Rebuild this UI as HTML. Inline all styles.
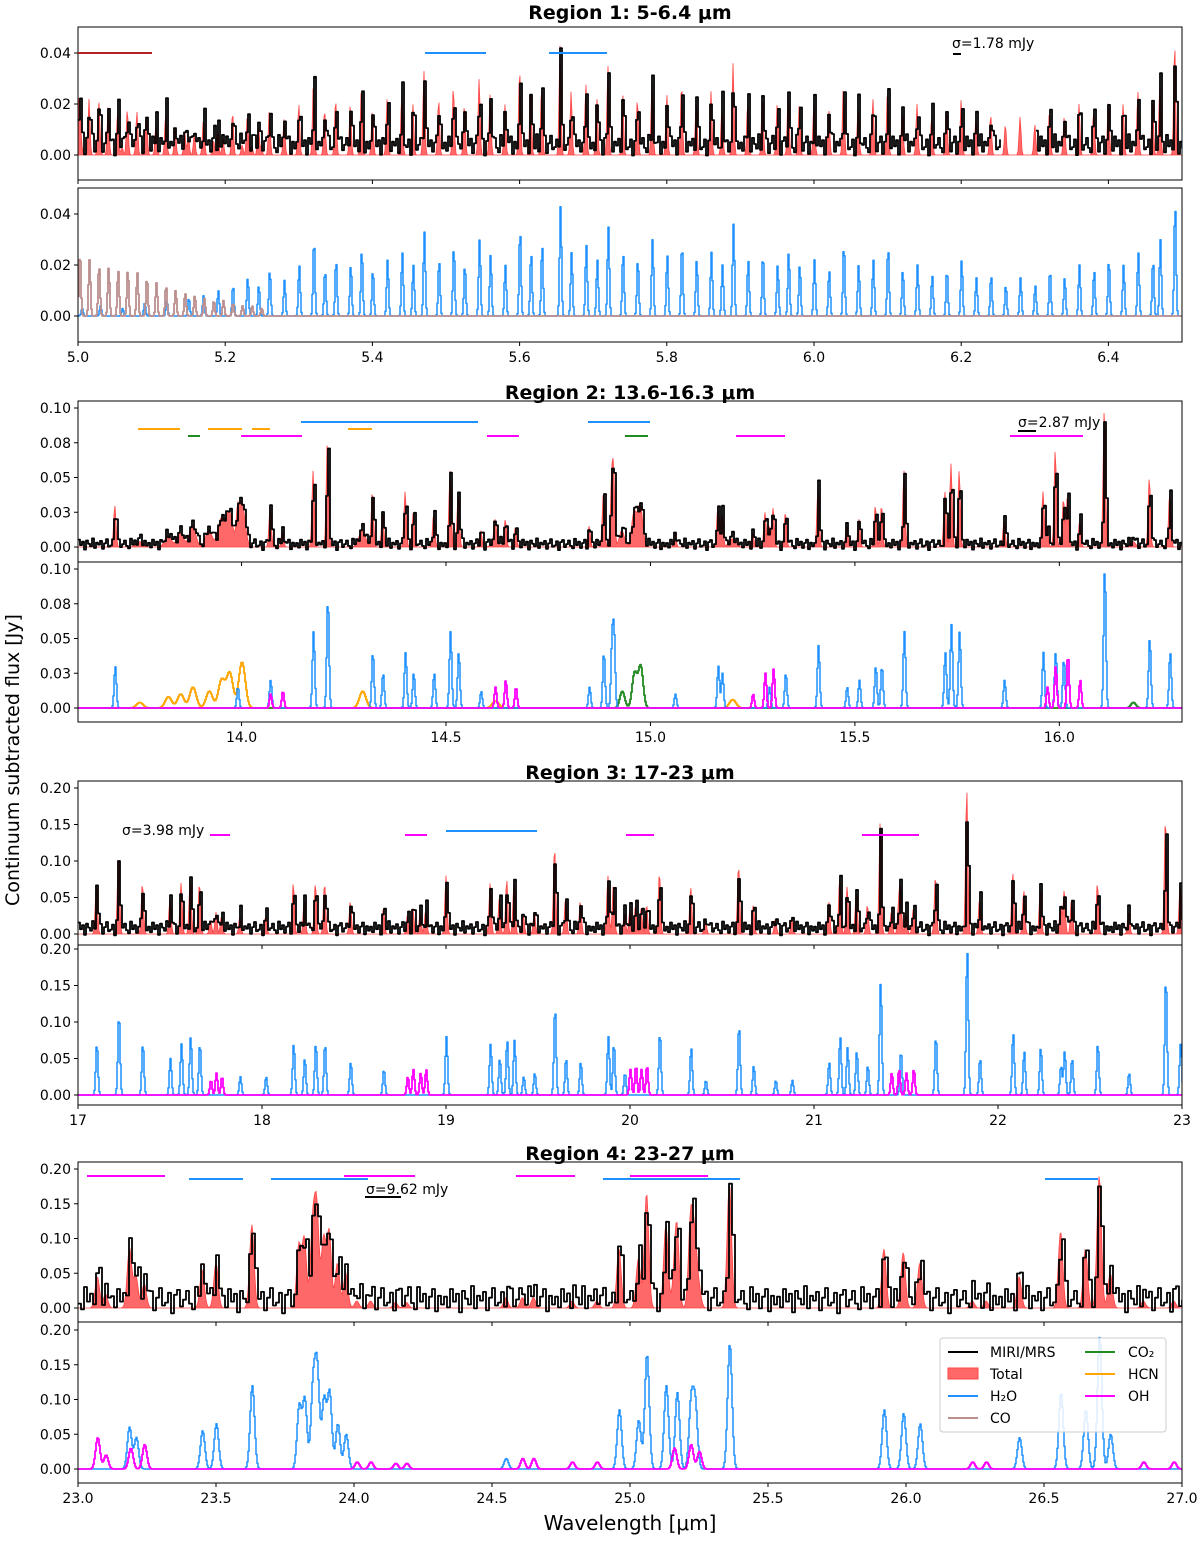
<!DOCTYPE html>
<html><head><meta charset="utf-8"><style>
html,body{margin:0;padding:0;background:#fff;}
svg text{font-family:"DejaVu Sans","Liberation Sans",sans-serif;}
</style></head><body>
<svg id="fig" width="1200" height="1537" viewBox="0 0 1200 1537" xmlns="http://www.w3.org/2000/svg">
<text x="19" y="760" font-size="19" text-anchor="middle" transform="rotate(-90 19 760)">Continuum subtracted flux [Jy]</text>
<text x="630" y="1530" font-size="20" text-anchor="middle">Wavelength [μm]</text>
<text x="630" y="19" font-size="19" font-weight="bold" text-anchor="middle">Region 1: 5-6.4 μm</text>
<text x="630" y="399" font-size="19" font-weight="bold" text-anchor="middle">Region 2: 13.6-16.3 μm</text>
<text x="630" y="779" font-size="19" font-weight="bold" text-anchor="middle">Region 3: 17-23 μm</text>
<text x="630" y="1160" font-size="19" font-weight="bold" text-anchor="middle">Region 4: 23-27 μm</text>
</svg>
<script>
// ---------- data ----------
const r1H2OCenters=[5.005,5.03,5.06,5.09,5.12,5.15,5.17,5.19,5.21,5.23,5.245,5.26,5.28,5.30,5.32,5.335,5.35,5.37,5.385,5.40,5.42,5.44,5.455,5.47,5.49,5.51,5.525,5.545,5.56,5.58,5.60,5.615,5.63,5.655,5.67,5.69,5.705,5.72,5.74,5.76,5.78,5.80,5.82,5.84,5.86,5.875,5.89,5.91,5.93,5.95,5.965,5.98,6.00,6.02,6.04,6.06,6.08,6.10,6.12,6.14,6.16,6.18,6.20,6.22,6.24,6.26,6.28,6.30,6.32,6.34,6.36,6.38,6.40,6.42,6.44,6.46,6.47,6.49];
const r1H2OHeights=[.003,.004,.003,.005,.006,.007,.008,.010,.012,.015,.012,.018,.014,.020,.030,.018,.022,.020,.026,.018,.022,.025,.020,.033,.022,.027,.020,.030,.024,.020,.034,.025,.028,.043,.025,.028,.022,.035,.025,.022,.030,.024,.028,.022,.025,.020,.036,.022,.024,.020,.025,.020,.022,.018,.028,.020,.022,.027,.018,.020,.016,.018,.022,.015,.016,.012,.015,.012,.018,.015,.020,.018,.022,.020,.025,.022,.030,.044];
const r1COCenters=[5.002,5.015,5.028,5.041,5.054,5.067,5.080,5.093,5.106,5.119,5.132,5.145,5.158,5.171,5.184,5.197,5.210,5.223,5.236,5.249];
const r1COHeights=[.025,.022,.020,.019,.018,.018,.017,.015,.013,.012,.010,.009,.008,.007,.006,.006,.005,.004,.004,.003];
const r2H2OCenters=[13.69,13.99,14.07,14.175,14.21,14.32,14.345,14.40,14.42,14.47,14.51,14.53,14.585,14.85,14.885,14.905,14.91,15.06,15.165,15.175,15.29,15.33,15.41,15.48,15.51,15.55,15.565,15.62,15.72,15.735,15.755,15.865,15.96,15.99,16.01,16.11,16.22,16.27];
const r2H2OHeights=[.030,.015,.020,.055,.078,.040,.025,.040,.025,.025,.055,.040,.012,.015,.040,.045,.050,.010,.030,.025,.015,.025,.045,.015,.020,.030,.030,.055,.040,.060,.055,.020,.040,.040,.035,.100,.050,.040];
const r2HCNCenters=[13.75,13.82,13.85,13.88,13.92,13.95,13.97,14.0,14.295,14.62,15.2];
const r2HCNHeights=[.004,.008,.010,.015,.012,.020,.025,.033,.012,.005,.006];
const r2CO2Centers=[14.93,14.96,14.975,16.18];
const r2CO2Heights=[.012,.025,.030,.004];
const r2OHCenters=[14.07,14.10,14.62,14.645,14.67,15.25,15.28,15.30,15.97,15.99,16.02,16.05];
const r2OHHeights=[.010,.012,.015,.020,.015,.010,.025,.028,.015,.030,.038,.020];
const r3H2OCenters=[17.10,17.22,17.35,17.50,17.56,17.61,17.66,17.88,18.02,18.17,18.23,18.29,18.34,18.48,18.66,19.0,19.24,19.29,19.33,19.37,19.42,19.48,19.59,19.65,19.73,19.88,19.91,19.97,20.16,20.33,20.41,20.59,20.67,20.79,20.88,21.08,21.14,21.18,21.23,21.29,21.36,21.47,21.66,21.83,21.90,22.08,22.14,22.23,22.34,22.36,22.40,22.54,22.71,22.91,22.99];
const r3H2OHeights=[.070,.110,.070,.050,.070,.080,.070,.025,.025,.070,.050,.070,.070,.045,.035,.080,.070,.050,.075,.075,.025,.030,.120,.050,.045,.080,.070,.030,.085,.065,.020,.095,.040,.020,.020,.045,.080,.065,.060,.040,.155,.060,.080,.200,.050,.085,.060,.065,.040,.060,.050,.070,.030,.160,.070];
const r3OHCenters=[17.72,17.75,17.78,18.79,18.82,18.86,18.89,20.0,20.03,20.06,20.09,21.42,21.46,21.50,21.54];
const r3OHHeights=[.020,.030,.025,.025,.035,.030,.035,.035,.040,.035,.040,.030,.035,.030,.035];
const r4H2OCenters=[23.185,23.21,23.45,23.50,23.63,23.80,23.82,23.85,23.865,23.89,23.91,23.94,23.97,24.55,24.96,25.03,25.06,25.13,25.17,25.22,25.235,25.36,25.92,25.99,26.05,26.41,26.56,26.65,26.70,26.74];
const r4H2OHeights=[.060,.045,.055,.065,.120,.090,.100,.115,.140,.100,.110,.065,.050,.015,.085,.070,.165,.120,.110,.095,.090,.180,.085,.080,.065,.045,.110,.085,.190,.050];
const r4OHCenters=[23.07,23.10,23.19,23.24,24.01,24.06,24.15,24.19,24.61,24.65,24.79,24.88,25.16,25.22,25.25,26.24,26.29,26.86,26.97];
const r4OHHeights=[.045,.020,.030,.035,.010,.010,.008,.008,.015,.015,.010,.010,.030,.035,.025,.010,.010,.010,.010];
const residuals=[0.3,-0.8,1.1,-0.2,0.6,-1.3,0.9,0.1,-0.5,1.4,-0.9,0.4,-0.1,0.8,-1.1,0.2,1.2,-0.6,-0.3,0.7,-1.4,0.5,1.0,-0.7,0.0,0.9,-0.4,-1.0,1.3,-0.2,0.6,-0.9,0.3,1.1,-1.2,0.4,-0.5];
const r1YTicks=["0.00","0.02","0.04"];const r1YVals=[0,0.02,0.04];
const r2YTicks=["0.00","0.03","0.05","0.08","0.10"];const r2YVals=[0,0.025,0.05,0.075,0.10];
const r3YTicks=["0.00","0.05","0.10","0.15","0.20"];const r3YVals=[0,0.05,0.10,0.15,0.20];
const r1XTicks=[5.0,5.2,5.4,5.6,5.8,6.0,6.2,6.4];
const r2XTicks=[14.0,14.5,15.0,15.5,16.0];
const r3XTicks=[17,18,19,20,21,22,23];
const r4XTicks=[23.0,23.5,24.0,24.5,25.0,25.5,26.0,26.5,27.0];
const r1GapStart=6.255, r1GapEnd=6.30;

// ---------- drawing ----------
const NS="http://www.w3.org/2000/svg";
const svg=document.getElementById('fig');
const X0=78,X1=1182;
function mk(tag,attrs,parent){const e=document.createElementNS(NS,tag);for(const k in attrs)e.setAttribute(k,attrs[k]);(parent||svg).appendChild(e);return e;}
function model(lam,centers,heights,sig){let s=0;for(let i=0;i<centers.length;i++){const d=(lam-centers[i])/sig;if(Math.abs(d)<5)s+=heights[i]*Math.exp(-0.5*d*d);}return s;}
let clipId=0;
function makePanel(p){
  const g=mk('g',{});
  
  
  const cid='c'+(clipId++);
  const cp=mk('clipPath',{id:cid},g);mk('rect',{x:X0,y:p.top,width:X1-X0,height:p.bot-p.top},cp);
  const plot=mk('g',{'clip-path':'url(#'+cid+')'},g);
  p.xs=l=>X0+(l-p.xmin)/(p.xmax-p.xmin)*(X1-X0);
  p.ys=v=>p.y0-v*p.k;
  p.plot=plot;p.g=g;
  return p;
}
function frame(p,showX){
  const g=p.g;
  const r=mk('rect',{x:X0,y:p.top,width:X1-X0,height:p.bot-p.top,fill:'none',stroke:'#000','stroke-width':1},g);
  
  
  p.yvals.forEach((v,i)=>{const y=p.ys(v);mk('line',{x1:X0-4,x2:X0,y1:y,y2:y,stroke:'#000'},g);
    const t=mk('text',{x:X0-7,y:y+5,'font-size':14,'text-anchor':'end'},g);t.textContent=p.ylabels[i];
    
    });
  p.xticks.forEach(v=>{const x=p.xs(v);mk('line',{x1:x,x2:x,y1:p.bot,y2:p.bot+4,stroke:'#000'},g);
    if(showX){const t=mk('text',{x:x,y:p.bot+20,'font-size':14,'text-anchor':'middle'},g);t.textContent=p.intLabels?String(v):v.toFixed(1);
    
    }});
}
function stepPath(p,fn,step,gap){let d='';let first=true;for(let x=X0;x<=X1;x+=step){const lam=p.xmin+(x-X0)/(X1-X0)*(p.xmax-p.xmin);
  if(gap&&lam>gap[0]&&lam<gap[1]){first=true;continue;}
  const y=p.ys(fn(lam,x)).toFixed(1);if(first){d+='M'+x+','+y;first=false;}else d+='H'+x+'V'+y;}return d;}
function series(p,fn,color,w,name,step,gap){const e=mk('path',{d:stepPath(p,fn,step||1,gap),fill:'none',stroke:color,'stroke-width':w,'stroke-linejoin':'round'},p.plot);
  
  return e;}
function fillSeries(p,fn,name){let d='M'+X0+','+p.y0;for(let x=X0;x<=X1;x++){const lam=p.xmin+(x-X0)/(X1-X0)*(p.xmax-p.xmin);d+='L'+x+','+p.ys(fn(lam)).toFixed(1);}d+='L'+X1+','+p.y0+'Z';
  const e=mk('path',{d:d,fill:'rgba(255,40,40,0.7)',stroke:'#f44','stroke-width':0.8},p.plot);
  
  }
function bar(x1,x2,y,c,w){const e=mk('line',{x1:x1,x2:x2,y1:y,y2:y,stroke:c,'stroke-width':w||2});
  
  }
function label(x,y,txt,name){const t=mk('text',{x:x,y:y,'font-size':14});t.textContent=txt;
  
  }
const BLUE='#1e90ff',CO='#bc8f8f',MAG='#ff00ff',ORG='#ffa500',GRN='#228b22';

// Region 1
const s1=0.0013;
const tot1=l=>model(l,r1H2OCenters,r1H2OHeights,s1)+model(l,r1COCenters,r1COHeights,s1);
let p=makePanel({name:'region1-data-panel',top:27,bot:180,y0:155,k:2550,xmin:5.0,xmax:6.5,yvals:r1YVals,ylabels:r1YTicks,xticks:r1XTicks});
fillSeries(p,tot1,'total-model-fill');
series(p,(l,x)=>tot1(l)*0.85+residuals[Math.floor(x/2)%residuals.length]*0.003+0.004,'#000',1.8,'miri-mrs-spectrum',2,[r1GapStart,r1GapEnd]);
frame(p,false);
p=makePanel({name:'region1-model-panel',top:188,bot:342,y0:316,k:2550,xmin:5.0,xmax:6.5,yvals:r1YVals,ylabels:r1YTicks,xticks:r1XTicks});
series(p,l=>model(l,r1H2OCenters,r1H2OHeights,s1),BLUE,1.5,'h2o-model');
series(p,l=>model(l,r1COCenters,r1COHeights,s1),CO,1.8,'co-model');
frame(p,true);
bar(78,152,53,'#b22222');bar(425,486,53,BLUE);bar(549,607,53,BLUE);
label(952,48,'σ=1.78 mJy','sigma-label-r1');bar(953,961,54,'#000');

// Region 2
const s2=0.0028;
const tot2=l=>model(l,r2H2OCenters,r2H2OHeights,s2)+model(l,r2HCNCenters,r2HCNHeights,0.008)+model(l,r2CO2Centers,r2CO2Heights,0.006)+model(l,r2OHCenters,r2OHHeights,s2);
p=makePanel({name:'region2-data-panel',top:401,bot:562,y0:547,k:1390,xmin:13.6,xmax:16.3,yvals:r2YVals,ylabels:r2YTicks,xticks:r2XTicks});
fillSeries(p,tot2,'total-model-fill');
series(p,(l,x)=>tot2(l)*0.95+residuals[Math.floor(x/2)%residuals.length]*0.003+0.002,'#000',1.8,'miri-mrs-spectrum',2);
frame(p,false);
p=makePanel({name:'region2-model-panel',top:562,bot:722,y0:708,k:1390,xmin:13.6,xmax:16.3,yvals:r2YVals,ylabels:r2YTicks,xticks:r2XTicks});
series(p,l=>model(l,r2HCNCenters,r2HCNHeights,0.008),ORG,1.8,'hcn-model');
series(p,l=>model(l,r2CO2Centers,r2CO2Heights,0.006),GRN,1.8,'co2-model');
series(p,l=>model(l,r2H2OCenters,r2H2OHeights,s2),BLUE,1.5,'h2o-model');
series(p,l=>model(l,r2OHCenters,r2OHHeights,s2),MAG,1.8,'oh-model');
frame(p,true);
bar(138,180,429,ORG);bar(208,242,429,ORG);bar(252,270,429,ORG);bar(188,200,436,GRN);bar(241,302,436,MAG);
bar(301,478,422,BLUE);bar(348,372,429,ORG);bar(487,519,436,MAG);bar(588,650,422,BLUE);bar(625,648,436,GRN);
bar(736,785,436,MAG);bar(1010,1083,436,MAG);
label(1018,427,'σ=2.87 mJy','sigma-label-r2');bar(1018,1036,431,'#000');

// Region 3
const s3=0.006;
const tot3=l=>model(l,r3H2OCenters,r3H2OHeights,s3)+model(l,r3OHCenters,r3OHHeights,s3);
p=makePanel({name:'region3-data-panel',top:781,bot:945,y0:934,k:730,xmin:17,xmax:23,yvals:r3YVals,ylabels:r3YTicks,xticks:r3XTicks,intLabels:true});
fillSeries(p,tot3,'total-model-fill');
series(p,(l,x)=>tot3(l)*0.85+residuals[Math.floor(x/2)%residuals.length]*0.007+0.008,'#000',1.8,'miri-mrs-spectrum',2);
frame(p,false);
p=makePanel({name:'region3-model-panel',top:945,bot:1105,y0:1095,k:730,xmin:17,xmax:23,yvals:r3YVals,ylabels:r3YTicks,xticks:r3XTicks,intLabels:true});
series(p,l=>model(l,r3H2OCenters,r3H2OHeights,s3),BLUE,1.5,'h2o-model');
series(p,l=>model(l,r3OHCenters,r3OHHeights,s3),MAG,1.8,'oh-model');
frame(p,true);
label(122,835,'σ=3.98 mJy','sigma-label-r3');
bar(210,230,835,MAG);bar(405,427,835,MAG);bar(446,537,831,BLUE);bar(626,654,835,MAG);bar(862,919,835,MAG);

// Region 4
const s4=0.008;
const tot4=l=>model(l,r4H2OCenters,r4H2OHeights,s4)+model(l,r4OHCenters,r4OHHeights,s4);
p=makePanel({name:'region4-data-panel',top:1162,bot:1322,y0:1308,k:695,xmin:23,xmax:27,yvals:r3YVals,ylabels:r3YTicks,xticks:r4XTicks});
fillSeries(p,tot4,'total-model-fill');
series(p,(l,x)=>tot4(l)*0.9+residuals[Math.floor(x/3)%residuals.length]*0.014+0.012,'#000',1.8,'miri-mrs-spectrum',3);
frame(p,false);
p=makePanel({name:'region4-model-panel',top:1322,bot:1483,y0:1469,k:695,xmin:23,xmax:27,yvals:r3YVals,ylabels:r3YTicks,xticks:r4XTicks});
series(p,l=>model(l,r4H2OCenters,r4H2OHeights,s4),BLUE,1.5,'h2o-model');
series(p,l=>model(l,r4OHCenters,r4OHHeights,s4),MAG,1.8,'oh-model');
frame(p,true);
bar(87,165,1176,MAG);bar(189,243,1179,BLUE);bar(271,368,1179,BLUE);bar(344,415,1176,MAG);
label(366,1194,'σ=9.62 mJy','sigma-label-r4');bar(365,401,1197,'#000');
bar(516,575,1176,MAG);bar(603,740,1179,BLUE);bar(630,708,1176,MAG);bar(1045,1098,1179,BLUE);

// Legend
const lg=mk('g',{});


mk('rect',{x:940,y:1338,width:226,height:94,rx:3,fill:'rgba(255,255,255,0.85)',stroke:'#ccc'},lg);
const legNames=['MIRI/MRS','Total','H₂O','CO','CO₂','HCN','OH'];
const legColors=['#000','fill',BLUE,CO,GRN,ORG,MAG];
legNames.forEach((n,i)=>{const col=i<4?0:1,row=i<4?i:i-4;const sx=col?1085:948,tx=col?1128:990,y=1352+row*22;
  const e=mk('g',{},lg);
  
  
  if(legColors[i]==='fill')mk('rect',{x:sx,y:y-6,width:30,height:11,fill:'rgba(255,40,40,0.7)',stroke:'#f44'},e);
  else mk('line',{x1:sx,x2:sx+30,y1:y,y2:y,stroke:legColors[i],'stroke-width':2},e);
  const t=mk('text',{x:tx,y:y+5,'font-size':14},e);t.textContent=n;});
</script>
</body></html>
